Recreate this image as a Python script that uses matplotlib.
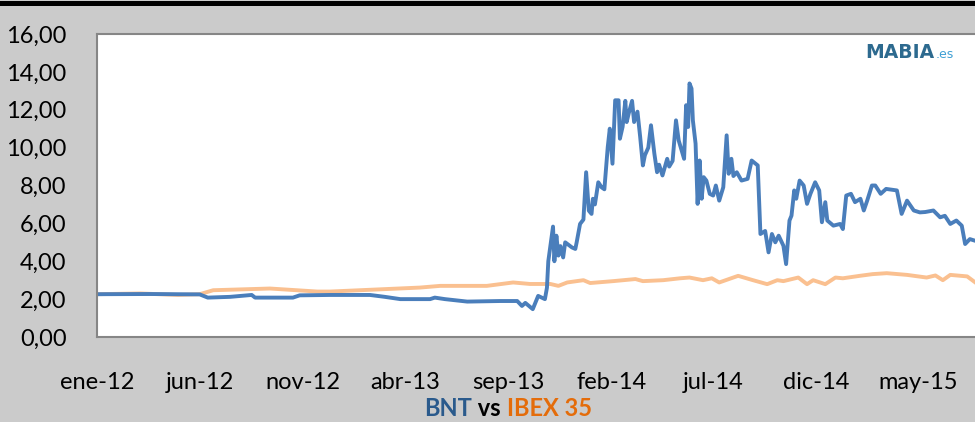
import matplotlib
matplotlib.use("Agg")
import matplotlib.pyplot as plt
import pandas as pd
from matplotlib.patches import Rectangle

# days since 1 Jan 2012
bnt_days = [0, 78, 152, 164, 197, 229, 234, 290, 300, 345, 404, 426, 449, 493, 500, 515,
            548, 597, 622, 629, 634, 645, 653, 663, 666, 668, 675, 677, 680, 683, 686, 690,
            693, 703, 708, 710, 715, 720, 724, 728, 732, 734, 737, 742, 747, 751, 756, 759,
            763, 767, 772, 774, 778, 782, 784, 787, 792, 795, 800, 804, 808, 811, 816, 820,
            825, 829, 832, 837, 844, 847, 852, 857, 861, 869, 872, 875, 877, 880, 882, 886,
            889, 892, 895, 898, 902, 907, 912, 916, 921, 927, 932, 935, 939, 942, 947, 954,
            963, 969, 978, 982, 989, 994, 999, 1004, 1009, 1016, 1020, 1025, 1028, 1032, 1035,
            1040, 1046, 1051, 1056, 1063, 1069, 1073, 1078, 1081, 1090, 1100, 1104, 1109, 1116,
            1122, 1130, 1135, 1140, 1147, 1152, 1160, 1168, 1184, 1191, 1199, 1209, 1218, 1226,
            1238, 1248, 1255, 1263, 1272, 1275, 1280, 1285, 1292, 1300]
bnt_vals = [2.26, 2.27, 2.25, 2.08, 2.12, 2.22, 2.08, 2.08, 2.20, 2.22, 2.22, 2.12, 2.00, 2.00, 2.08, 2.00,
            1.87, 1.90, 1.90, 1.64, 1.80, 1.47, 2.17, 2.00, 2.60, 4.00, 5.83, 4.00, 5.35, 4.30, 4.80, 4.20,
            5.00, 4.73, 4.65, 5.00, 5.97, 6.20, 8.70, 6.67, 6.50, 7.30, 7.00, 8.17, 7.90, 7.80, 10.03, 11.00,
            9.15, 12.50, 12.50, 10.47, 11.10, 12.47, 11.35, 11.80, 12.47, 11.35, 11.90, 10.56, 9.06, 9.60, 10.00, 11.18,
            9.68, 8.70, 9.10, 8.53, 9.41, 9.00, 9.30, 11.44, 10.38, 9.41, 12.24, 11.09, 13.39, 13.12, 11.44, 10.21,
            7.03, 9.32, 7.30, 8.44, 8.26, 7.56, 7.47, 8.00, 7.20, 7.91, 10.65, 8.62, 9.41, 8.50, 8.70, 8.26,
            8.35, 9.32, 9.06, 5.44, 5.60, 4.47, 5.44, 5.00, 5.35, 4.82, 3.85, 6.15, 6.41, 7.74, 7.30,
            8.26, 8.00, 7.03, 7.56, 8.17, 7.74, 6.06, 7.12, 6.15, 5.88, 5.97, 5.70, 7.47, 7.56,
            7.12, 7.30, 6.68, 7.20, 8.00, 8.00, 7.56, 7.82, 7.74, 6.50, 7.20, 6.68, 6.58, 6.60,
            6.68, 6.32, 6.40, 5.97, 6.15, 6.05, 5.88, 4.91, 5.17, 5.08]

ibex_days = [0, 64, 120, 152, 172, 256, 326, 345, 478, 508, 577, 616, 641, 671, 683, 696,
             720, 730, 764, 797, 808, 838, 863, 877, 897, 910, 921, 949, 971, 992, 1007, 1016,
             1038, 1051, 1060, 1078, 1093, 1104, 1129, 1148, 1169, 1199, 1228, 1241, 1252, 1263,
             1288, 1300]
ibex_vals = [2.26, 2.30, 2.22, 2.26, 2.47, 2.56, 2.40, 2.40, 2.61, 2.70, 2.70, 2.88, 2.80, 2.80, 2.70, 2.88,
             3.00, 2.85, 2.95, 3.06, 2.95, 3.00, 3.10, 3.14, 3.00, 3.10, 2.88, 3.23, 3.00, 2.79, 3.00, 2.95,
             3.14, 2.79, 3.00, 2.79, 3.14, 3.10, 3.23, 3.32, 3.37, 3.28, 3.14, 3.25, 3.00, 3.28,
             3.20, 2.88]

tick_dates = ["2012-01-01", "2012-06-01", "2012-11-01", "2013-04-01", "2013-09-01",
              "2014-02-01", "2014-07-01", "2014-12-01", "2015-05-01"]
tick_labels = ["ene-12", "jun-12", "nov-12", "abr-13", "sep-13",
               "feb-14", "jul-14", "dic-14", "may-15"]
y_ticks = [0, 2, 4, 6, 8, 10, 12, 14, 16]

start = pd.Timestamp("2012-01-01")
bnt_x = start + pd.to_timedelta(bnt_days, unit="D")
ibex_x = start + pd.to_timedelta(ibex_days, unit="D")

plt.rcParams['font.family'] = ['Lato', 'DejaVu Sans']

W, H = 975, 422
fig = plt.figure(figsize=(W / 100, H / 100), dpi=100, facecolor="#cbcbcb")
ax = fig.add_axes([97 / W, (H - 337) / H, (980 - 97) / W, (337 - 34) / H])
ax.set_facecolor("white")

ax.plot(ibex_x, ibex_vals, color="#fac090", lw=2.8, solid_joinstyle="round")
ax.plot(bnt_x, bnt_vals, color="#4a7ebb", lw=2.8, solid_joinstyle="round")

ax.set_ylim(0, 16)
ax.set_xlim(start, start + pd.Timedelta(days=1307))
ax.set_yticks(y_ticks)
ax.set_yticklabels([f"{v:.2f}".replace(".", ",") for v in y_ticks])
ax.set_xticks(pd.to_datetime(tick_dates))
ax.set_xticklabels(tick_labels)
ax.tick_params(axis="y", length=0, pad=22, labelsize=17, colors="black")
ax.tick_params(axis="x", length=0, pad=25, labelsize=17, colors="black")
for s in ax.spines.values():
    s.set_color("#868686")
    s.set_linewidth(1.5)

# black band at the top
fig.add_artist(Rectangle((0, 1 - 6 / H), 1, 4.5 / H, transform=fig.transFigure,
                         color="black", lw=0))

# logo
ax.text(0.948, 0.94, "MABIA", transform=ax.transAxes, ha="right", va="center",
        fontsize=13.5, fontweight="bold", color="#2d6a8f", family=["DejaVu Sans"])
ax.text(0.95, 0.932, ".es", transform=ax.transAxes, ha="left", va="center",
        fontsize=9, color="#3e9fd4", family=["DejaVu Sans"])

# title in three colours
parts = [("BNT", "#2a5a8c"), (" vs ", "black"), ("IBEX 35", "#e46c0a")]
fig.canvas.draw()
r = fig.canvas.get_renderer()
texts = []
for s, c in parts:
    texts.append(fig.text(0, 0, s, color=c, fontsize=17, fontweight="bold",
                          va="center", ha="left"))
widths = [t.get_window_extent(r).width for t in texts]
x = 508 - sum(widths) / 2
for t, w in zip(texts, widths):
    t.set_x(x / W)
    t.set_y(1 - 409 / H)
    x += w

fig.savefig("out.png", dpi=100, facecolor=fig.get_facecolor())
